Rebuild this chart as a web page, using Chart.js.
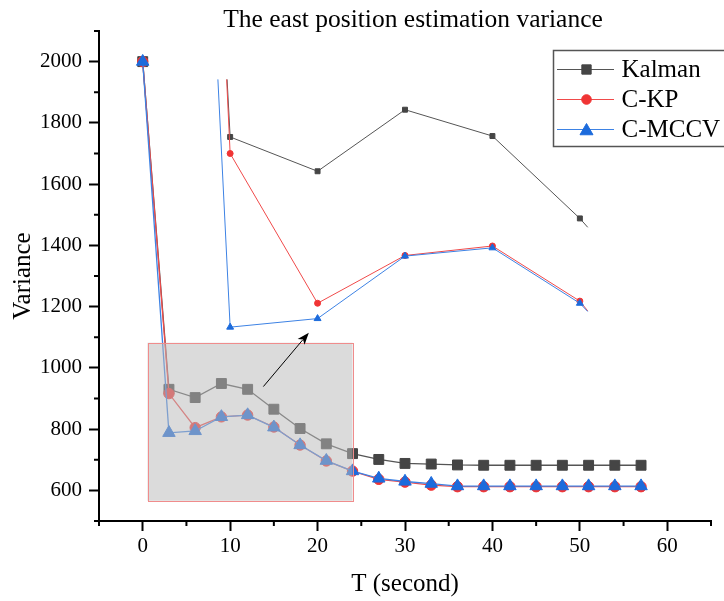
<!DOCTYPE html>
<html>
<head>
<meta charset="utf-8">
<script src="https://cdn.jsdelivr.net/npm/chart.js@4"></script>
<style>
  html, body { margin: 0; padding: 0; background: #fff; }
</style>
</head>
<body>
<canvas id="chart" width="724" height="601"></canvas>
<script>
// sample times (s) and variance of each filter
const tValues = [0, 3, 6, 9, 12, 15, 18, 21, 24, 27, 30, 33, 36, 39, 42, 45, 48, 51, 54, 57];
const kalman = [2000, 930, 903, 949, 930, 865, 802, 752, 720, 701, 688, 686, 683, 682, 682, 682, 682, 682, 682, 682];
const cKP    = [2000, 916, 805, 840, 846, 807, 748, 696, 663, 636, 627, 617, 612, 612, 612, 612, 612, 612, 612, 612];
const cMCCV  = [2000, 788, 794, 840, 846, 806, 748, 697, 663, 639, 629, 622, 614, 614, 614, 614, 614, 614, 614, 614];

// magnified inset (drawn in the upper part of the plot), first/last pairs are where the lines get cut
const insetT = [10, 20, 30, 40, 50];
const insetKalman = [1754, 1642, 1843, 1757, 1488];
const insetKP     = [1700, 1211, 1367, 1398, 1218];
const insetMCCV   = [1133, 1161, 1365, 1392, 1211];
const insetCutKalman = [[9.65, 1942], [50.9, 1459]];
const insetCutKP     = [[9.6, 1942], [50.9, 1186]];
const insetCutMCCV   = [[8.6, 1942], [50.9, 1184]];

const xTicks = { min: -5, max: 65, step: 5, major: 10 };
const yTicks = { min: 500, max: 2100, step: 100, major: 200 };

const serif = "'Liberation Serif', 'Times New Roman', serif";

const styles = {
  kalman: { line: '#555555', point: '#454545', shape: 'rect' },
  kp:     { line: '#f04a4a', point: '#f03434', shape: 'circle' },
  mccv:   { line: '#3d82e4', point: '#1c6bdc', shape: 'triangle' }
};

function pts(xs, ys) {
  return xs.map((x, i) => ({ x: x, y: ys[i] }));
}

function insetPts(vals, cut) {
  return [{ x: cut[0][0], y: cut[0][1] }].concat(pts(insetT, vals), [{ x: cut[1][0], y: cut[1][1] }]);
}

function mainSet(label, data, st, r, order) {
  return {
    label: label,
    data: pts(tValues, data),
    borderColor: st.line,
    borderWidth: 1.3,
    pointStyle: st.shape,
    pointRadius: r,
    pointBackgroundColor: st.point,
    pointBorderColor: st.point,
    pointBorderWidth: 1,
    order: order
  };
}

function insetSet(label, vals, cut, st, r, order) {
  let radii = insetT.map(() => r);
  return {
    label: label,
    data: insetPts(vals, cut),
    borderColor: st.line,
    borderWidth: 1,
    pointStyle: st.shape,
    pointRadius: [0].concat(radii, [0]),
    pointBackgroundColor: st.point,
    pointBorderColor: st.point,
    pointBorderWidth: 1,
    order: order
  };
}

function isMajorX(v) { return v % xTicks.major === 0; }
function isMajorY(v) { return v % yTicks.major === 0 && v >= 600 && v <= 2000; }

// grey zoom box, arrow, minor ticks, title and legend
const extras = {
  id: 'extras',
  afterDatasetsDraw(chart) {
    const ctx = chart.ctx;
    const xs = chart.scales.x, ys = chart.scales.y;
    // zoom box
    let x0 = xs.getPixelForValue(0.55), x1 = xs.getPixelForValue(24);
    let y0 = ys.getPixelForValue(1082), y1 = ys.getPixelForValue(566);
    ctx.save();
    ctx.fillStyle = 'rgba(186,186,186,0.52)';
    ctx.fillRect(x0, y0, x1 - x0, y1 - y0);
    ctx.strokeStyle = '#f08c8c';
    ctx.lineWidth = 1;
    ctx.strokeRect(Math.round(x0) + 0.5, Math.round(y0) + 0.5, Math.round(x1 - x0), Math.round(y1 - y0));

    // arrow
    let ax0 = xs.getPixelForValue(13.8), ay0 = ys.getPixelForValue(939);
    let ax1 = xs.getPixelForValue(19.0), ay1 = ys.getPixelForValue(1115);
    let ang = Math.atan2(ay1 - ay0, ax1 - ax0);
    let hl = 12, hw = 4.5;
    ctx.strokeStyle = '#000';
    ctx.lineWidth = 1;
    ctx.beginPath();
    ctx.moveTo(ax0, ay0);
    ctx.lineTo(ax1 - Math.cos(ang) * hl * 0.8, ay1 - Math.sin(ang) * hl * 0.8);
    ctx.stroke();
    ctx.fillStyle = '#000';
    ctx.beginPath();
    ctx.moveTo(ax1, ay1);
    ctx.lineTo(ax1 - Math.cos(ang) * hl - Math.sin(ang) * hw, ay1 - Math.sin(ang) * hl + Math.cos(ang) * hw);
    ctx.lineTo(ax1 - Math.cos(ang) * hl * 0.75, ay1 - Math.sin(ang) * hl * 0.75);
    ctx.lineTo(ax1 - Math.cos(ang) * hl + Math.sin(ang) * hw, ay1 - Math.sin(ang) * hl - Math.cos(ang) * hw);
    ctx.closePath();
    ctx.fill();
    ctx.restore();
  },
  afterDraw(chart) {
    const ctx = chart.ctx;
    const xs = chart.scales.x, ys = chart.scales.y;
    ctx.save();
    // short minor ticks
    ctx.strokeStyle = '#000';
    ctx.lineWidth = 2;
    ctx.beginPath();
    xs.ticks.forEach(t => {
      if (!isMajorX(t.value)) {
        let px = xs.getPixelForValue(t.value);
        ctx.moveTo(px, xs.top);
        ctx.lineTo(px, xs.top + 5);
      }
    });
    ys.ticks.forEach(t => {
      if (!isMajorY(t.value)) {
        let py = ys.getPixelForValue(t.value);
        ctx.moveTo(ys.right, py);
        ctx.lineTo(ys.right - 5, py);
      }
    });
    ctx.stroke();

    // title
    ctx.fillStyle = '#000';
    ctx.font = '25.5px ' + serif;
    ctx.textAlign = 'center';
    ctx.textBaseline = 'alphabetic';
    ctx.fillText('The east position estimation variance', 413, 27);

    // legend
    ctx.fillStyle = '#fff';
    ctx.fillRect(553.5, 50.5, 200, 96);
    ctx.strokeStyle = '#555';
    ctx.lineWidth = 1.5;
    ctx.strokeRect(553.5, 50.5, 200, 96);
    const items = [
      ['Kalman', styles.kalman, 6.6],
      ['C-KP', styles.kp, 4.8],
      ['C-MCCV', styles.mccv, 7.5]
    ];
    items.forEach((it, i) => {
      let y = 69.5 + i * 30;
      let st = it[1];
      ctx.strokeStyle = st.line;
      ctx.lineWidth = 1;
      ctx.beginPath();
      ctx.moveTo(557, y);
      ctx.lineTo(614, y);
      ctx.stroke();
      ctx.fillStyle = st.point;
      ctx.strokeStyle = st.point;
      Chart.helpers.drawPoint(ctx, { pointStyle: st.shape, radius: it[2], rotation: 0, borderWidth: 1 }, 586.5, st.shape === 'triangle' ? y + 1.5 : y);
      ctx.fillStyle = '#000';
      ctx.font = '25px ' + serif;
      ctx.textAlign = 'left';
      ctx.textBaseline = 'middle';
      ctx.fillText(it[0], 621.5, y + 1);
    });
    ctx.restore();
  }
};

new Chart(document.getElementById('chart'), {
  type: 'line',
  data: {
    datasets: [
      mainSet('Kalman', kalman, styles.kalman, 7, 6),
      mainSet('C-KP', cKP, styles.kp, 5.2, 5),
      mainSet('C-MCCV', cMCCV, styles.mccv, 7.2, 4),
      insetSet('Kalman inset', insetKalman, insetCutKalman, styles.kalman, 3.5, 3),
      insetSet('C-KP inset', insetKP, insetCutKP, styles.kp, 3, 2),
      insetSet('C-MCCV inset', insetMCCV, insetCutMCCV, styles.mccv, 4, 1)
    ]
  },
  options: {
    responsive: false,
    animation: false,
    devicePixelRatio: 1,
    layout: { padding: { top: 31, right: 13, left: 0, bottom: 0 } },
    plugins: {
      legend: { display: false },
      title: { display: false },
      tooltip: { enabled: false }
    },
    scales: {
      x: {
        type: 'linear',
        min: xTicks.min,
        max: xTicks.max,
        afterFit: function(s) { s.height = 80; },
        ticks: {
          stepSize: xTicks.step,
          autoSkip: false,
          maxRotation: 0,
          padding: 3,
          color: '#000',
          font: { family: serif, size: 21 },
          callback: function(v) { return isMajorX(v) ? String(v) : ''; }
        },
        grid: {
          drawOnChartArea: false,
          tickLength: 10,
          tickWidth: 2,
          tickColor: c => (c.tick && isMajorX(c.tick.value)) ? '#000' : 'rgba(0,0,0,0)'
        },
        border: { color: '#000', width: 2 },
        title: { display: true, text: 'T (second)', color: '#000', font: { family: serif, size: 25 }, padding: { top: 0, bottom: 2 } }
      },
      y: {
        type: 'linear',
        min: yTicks.min,
        max: yTicks.max,
        afterFit: function(s) { s.width = 99; },
        ticks: {
          stepSize: yTicks.step,
          autoSkip: false,
          padding: 7,
          color: '#000',
          font: { family: serif, size: 21 },
          callback: function(v) { return isMajorY(v) ? String(v) : ''; }
        },
        grid: {
          drawOnChartArea: false,
          tickLength: 10,
          tickWidth: 2,
          tickColor: c => (c.tick && isMajorY(c.tick.value)) ? '#000' : 'rgba(0,0,0,0)'
        },
        border: { color: '#000', width: 2 },
        title: { display: true, text: 'Variance', color: '#000', font: { family: serif, size: 25 }, padding: { top: 8, bottom: 0 } }
      }
    }
  },
  plugins: [extras]
});
</script>
</body>
</html>
